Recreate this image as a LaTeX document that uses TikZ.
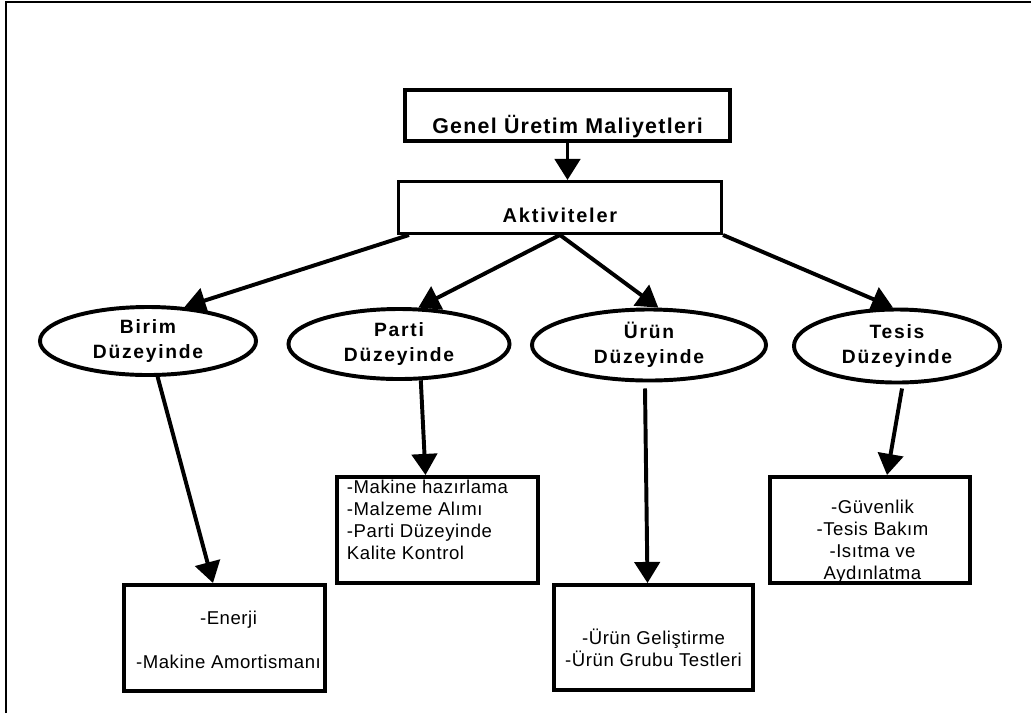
\documentclass[tikz,border=0pt]{standalone}
\usepackage{fontspec}
\usetikzlibrary{shapes.geometric,arrows.meta,calc}

\newfontfamily\titlefont[LetterSpace=6]{Liberation Sans}
\newfontfamily\aktfont[LetterSpace=9]{Liberation Sans}
\newfontfamily\ellfont[LetterSpace=9]{Liberation Sans}
\newfontfamily\listfont[LetterSpace=3]{Liberation Sans}

\tikzset{
  bigbox/.style={draw,line width=2.8pt,inner sep=0pt},
  oval/.style={draw,ellipse,line width=2.8pt,inner sep=0pt,align=center,
    font=\ellfont\bfseries\fontsize{13.7}{18}\selectfont},
  listbox/.style={draw,line width=2.8pt,minimum width=5.025cm,minimum height=2.65cm},
  listtext/.style={inner sep=0pt,font=\listfont\fontsize{13.2}{15.6}\selectfont},
  flow/.style={line width=2.8pt,-{Triangle[length=15pt,width=18pt]}}
}

\begin{document}
\begin{tikzpicture}[x=0.025cm,y=-0.025cm]
        \useasboundingbox (0,0) rectangle (1031,713);
        \draw [line width=1.4pt] (6,713) -- (6,2) -- (1031,2);

        % top
        \node[bigbox,minimum width=8.125cm,minimum height=1.275cm,text height=25pt,text depth=0pt,
              font=\titlefont\bfseries\fontsize{15.2}{18}\selectfont] (gum) at (567.5,115.5) {Genel Üretim Maliyetleri};
        \node[bigbox,line width=2.1pt,minimum width=8.075cm,minimum height=1.3cm,text height=22pt,text depth=0pt,
              font=\aktfont\bfseries\fontsize{14.2}{18}\selectfont] (akt) at (560,207.5) {Aktiviteler};

        % levels
        \node[oval,minimum width=5.4cm,minimum height=1.7cm] (birim) at (148,341) {Birim\\Düzeyinde};
        \node[oval,minimum width=5.525cm,minimum height=1.75cm] (parti) at (399,344) {Parti\\Düzeyinde};
        \node[oval,minimum width=5.85cm,minimum height=1.775cm] (urun) at (649,345) {Ürün\\Düzeyinde};
        \node[oval,minimum width=5.15cm,minimum height=1.825cm] (tesis) at (897,346) {Tesis\\Düzeyinde};

        % lists
        \node[listbox] (enerjibox) at (224.5,638) {};
        \node[listbox] (partibox) at (437.5,530) {};
        \node[listbox,minimum width=4.975cm,minimum height=2.625cm] (urunbox) at (653.5,637.5) {};
        \node[listbox,minimum width=5cm] (tesisbox) at (870,530) {};

        \node[listtext,align=center] (enerjitext) at ($(enerjibox)+(4,1.5)$) {-Enerji\\[15.6pt]-Makine Amortismanı};
        \node[listtext,align=left] (partitext) at ($(partibox)+(-10,-10)$) {-Makine hazırlama\\-Malzeme Alımı\\-Parti Düzeyinde\\Kalite Kontrol};
        \node[listtext,align=center] (uruntext) at ($(urunbox)+(0,10)$) {-Ürün Geliştirme\\-Ürün Grubu Testleri};
        \node[listtext,align=center] (tesistext) at ($(tesisbox)+(2.5,12)$) {-Güvenlik\\-Tesis Bakım\\-Isıtma ve\\Aydınlatma};

        \draw[flow] (gum.south) -- (gum.south |- akt.north);

        \draw[flow] ($(akt.south west)+(12,0)$) -- (birim.43);
        \draw[flow] (akt.south) -- (parti.62);
        \draw[flow] (akt.south) -- (urun.76);
        \draw[flow] (akt.south east) -- (tesis.96);

        \draw[flow] (birim.-75) -- ($(enerjibox.north)+(-11.5,0)$);
        \draw[flow] (parti.-59) -- ($(partibox.north)+(-12,0)$);
        \draw[flow] ($(urun.south)+(-4,6)$) -- ($(urunbox.north)+(-6,0)$);
        \draw[flow] ($(tesis.south)+(5,4)$) -- ($(tesisbox.north)+(17,0)$);
    \end{tikzpicture}
\end{document}
